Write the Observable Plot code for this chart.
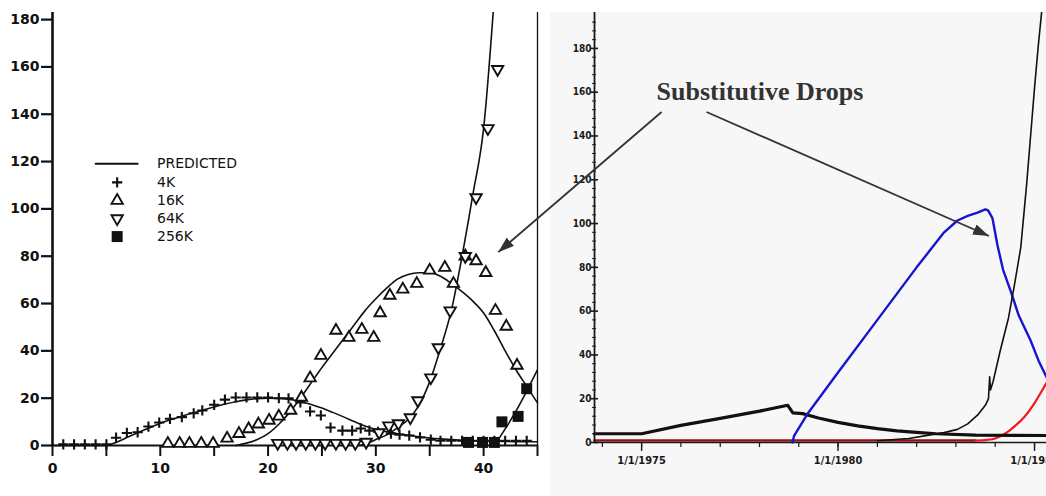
<!DOCTYPE html>
<html>
<head>
<meta charset="utf-8">
<script src="https://cdn.jsdelivr.net/npm/d3@7"></script>
<script src="https://cdn.jsdelivr.net/npm/@observablehq/plot@0.6"></script>
<style>
html,body{margin:0;padding:0;background:#fff;}
#wrap{position:relative;width:1046px;height:496px;overflow:hidden;background:#fff;}
#left{position:absolute;left:0;top:0;}
#rightbg{position:absolute;left:550px;top:12px;width:496px;height:484px;background:#f7f7f7;}
#right{position:absolute;left:550px;top:0;}
#overlay{position:absolute;left:0;top:0;pointer-events:none;}
</style>
</head>
<body>
<div id="wrap">
  <div id="left"></div>
  <div id="rightbg"></div>
  <div id="right"></div>
  <svg id="overlay" width="1046" height="496"></svg>
</div>
<script>
// ---------------- LEFT PANEL DATA (x = period, y = units) ----------------
const leftXTicks = [0, 5, 10, 15, 20, 25, 30, 35, 40, 45];
const leftYTicks = [0, 20, 40, 60, 80, 100, 120, 140, 160, 180];

const obs4K = [[1,0.5],[2,0.5],[3,0.5],[4,0.5],[5,0.5],[5.9,3.3],[6.9,5.3],[7.9,5.6],[8.9,8],[9.9,9.7],
  [10.9,11.3],[12,12],[13.1,13.6],[13.9,14.8],[15,17.2],[16,19.4],[17,20.3],[18,20.3],[19,20.3],[20,20.3],
  [21,20],[21.9,19.9],[23,18.2],[23.9,14.4],[24.9,12.7],[25.8,7.6],[26.9,6.3],[27.8,6.3],[28.6,7.2],[29.4,6.3],
  [30.2,5.8],[31.4,5],[32.2,4.6],[33.1,4.2],[34.1,3.4],[35.1,2.5],[36,2],[37,2],[38,2],[39,2],[40,2],[41,2],[42,2],[43,2],[44,2]];

const obs16K = [[10.7,0.8],[11.8,0.8],[12.7,0.8],[13.8,0.8],[14.9,0.8],[16.2,3],[17.3,5],[18.2,7],[19.1,9],[20.1,10.6],
  [21,12.3],[22.1,14.8],[23.1,20.3],[23.9,28.5],[24.9,38],[26.3,48.6],[27.5,45.6],[28.7,49],[29.8,45.6],[30.4,56],
  [31.3,63.4],[32.5,66],[33.8,68.4],[35,74],[36.4,75.2],[37.2,68.4],[38.3,80],[39.3,78],[40.2,73],[41.1,57],
  [42.1,50.3],[43.1,33.8]];

const obs64K = [[20.9,1],[21.8,1],[22.6,1],[23.5,1],[24.4,1],[25.3,1],[26.3,1],[27.2,1],[28.1,1],[29.1,1.5],
  [30.3,5.5],[31.2,8.4],[32.1,9.3],[33.2,11.8],[33.9,19],[35.1,28.7],[35.8,41.4],[36.9,57],[38.3,80],
  [39.3,104.8],[40.4,134],[41.3,159]];

const obs256K = [[38.6,1.3],[39.9,1.3],[41,1.3],[41.7,10],[43.2,12.3],[44,24]];

const pred4K = [[0,0],[5,0],[6,1.5],[7,3.6],[8,5.6],[9,7.5],[10,9.4],[11,11],[12,12.4],[13,13.7],[14,15],
  [15,16.3],[16,17.5],[17,18.5],[18,19.3],[19,19.8],[20,20],[21,19.9],[22,19.5],[23,18.6],[24,17.3],[25,15.8],
  [26,14],[27,12.1],[28,10.1],[29,8.2],[30,6.8],[31,5.8],[32,5],[33,4.3],[34,3.7],[35,3.2],[36,2.8],[38,2.2],
  [40,1.9],[42,1.7],[45,1.6]];
const pred16K = [[17,0],[18,1],[19,2.5],[20,5],[21,9],[22,14],[23,20],[24,26.5],[25,33],[26,39],[27,45],[28,51],
  [29,57],[30,62],[31,66.5],[32,70.3],[33,72.3],[34,73],[35,73],[36,71.5],[37,68.5],[38,65],[39,61],[40,56],
  [41,48.5],[42,40],[43,32],[44,25],[45,18]];
const pred64K = [[28.5,0],[29,0.5],[30,2.5],[31,4.5],[32,7.5],[33,11],[34,17],[35,27],[36,41],[37,57],[38,80],
  [39,106],[40,134],[41,190]];
const pred256K = [[41,0],[42,7],[43,14.5],[44,23],[45,32]];

const legendLabels = ["PREDICTED", "4K", "16K", "64K", "256K"];

// ---------------- RIGHT PANEL DATA (x = year, y = units) ----------------
const rightMajorYears = [1975, 1980, 1985];
const rightMinorYears = [1974,1975,1976,1977,1978,1979,1980,1981,1982,1983,1984,1985];
const rightYTicks = [0, 20, 40, 60, 80, 100, 120, 140, 160, 180];

const oldBlack = [[1973.8,4],[1975,4],[1976,7.8],[1977,11],[1978,14.3],[1978.72,17],[1978.85,13.5],[1979.1,13.2],
  [1979.5,11.2],[1980,9.2],[1980.5,7.6],[1981,6.3],[1981.5,5.3],[1982,4.6],[1982.5,4],[1983.5,3.4],[1985.31,3.2]];
const blueSeries = [[1978.84,0],[1978.88,3],[1979.22,13],[1980,32],[1981,56],[1982,80],[1982.35,88],[1982.7,96],
  [1983.04,101.4],[1983.3,103.5],[1983.55,105],[1983.75,106.5],[1983.82,106],[1983.93,102.5],[1984.06,90],
  [1984.2,79],[1984.39,69.4],[1984.6,58],[1984.9,46.6],[1985.1,37.5],[1985.31,29.7]];
const newBlack = [[1981,0.8],[1981.8,1.8],[1982.35,3.5],[1982.7,4.5],[1983.04,6],[1983.3,8.5],[1983.55,12.5],
  [1983.75,17],[1983.83,20],[1983.86,30],[1983.88,24],[1983.95,28],[1984.13,42],[1984.34,57],[1984.5,73],
  [1984.65,89],[1984.8,118],[1984.9,140],[1985,162],[1985.1,182],[1985.2,200]];
const redSeries = [[1973.8,0.9],[1983.5,0.9],[1983.8,1.2],[1984,1.8],[1984.3,4.6],[1984.5,7.5],[1984.73,11.4],
  [1985,18],[1985.15,22.5],[1985.31,27.4]];

// annotation
const annotationText = "Substitutive Drops";
const leftTarget = [41.4, 81.5];
const rightTarget = [1983.855, 94.1];

// ---------------- helpers ----------------
const toDate = y => {
  const yr = Math.floor(y);
  const a = Date.UTC(yr, 0, 1), b = Date.UTC(yr + 1, 0, 1);
  return new Date(a + (y - yr) * (b - a));
};
const X = d => d[0], Y = d => d[1];
const DX = d => toDate(d[0]);

// ---------------- LEFT CHART ----------------
const ink = "#111";
const tickFont = "DejaVu Sans, Verdana, sans-serif";
const plusStyle = {symbol: "plus", r: 3.4, stroke: ink, strokeWidth: 2.1, fill: "none"};
const upStyle = {symbol: "triangle2", r: 5.4, stroke: ink, strokeWidth: 1.9, fill: "white"};
const downStyle = {symbol: "triangle2", r: 5.4, stroke: ink, strokeWidth: 1.9, fill: "white", rotate: 180};
const squareStyle = {symbol: "square", r: 6.2, fill: ink, stroke: "none"};

// legend layout (in the chart's own data units)
const legX1 = 4.0, legX2 = 7.9, legSymX = 6.0, legTextX = 9.7;
const legRowY = [119.1, 111.2, 103.5, 95.9, 88.3];
const legendRows = legendLabels.map((label, i) => ({label, i}));
const legSym = [null, plusStyle, upStyle, downStyle, squareStyle];

const left = Plot.plot({
  width: 545, height: 496,
  marginLeft: 52, marginRight: 8, marginTop: 12, marginBottom: 51,
  x: {domain: [0, 45], label: null},
  y: {domain: [0, 183], label: null},
  style: {background: "transparent", color: ink},
  marks: [
    Plot.line(pred4K, {x: X, y: Y, stroke: ink, strokeWidth: 1.6, curve: "monotone-x"}),
    Plot.line(pred16K, {x: X, y: Y, stroke: ink, strokeWidth: 1.6, curve: "monotone-x"}),
    Plot.line(pred64K, {x: X, y: Y, stroke: ink, strokeWidth: 1.6, curve: "monotone-x", clip: true}),
    Plot.line(pred256K, {x: X, y: Y, stroke: ink, strokeWidth: 1.6, curve: "monotone-x", clip: true}),
    Plot.ruleX([0], {stroke: ink, strokeWidth: 2.6}),
    Plot.ruleX([45], {stroke: ink, strokeWidth: 1.3}),
    Plot.ruleY([0], {stroke: ink, strokeWidth: 2.2}),
    Plot.axisY(leftYTicks, {tickSize: 11, tickPadding: 2, strokeWidth: 2.2, fontSize: 14, fontWeight: "bold", fontFamily: tickFont, label: null}),
    Plot.axisX(leftXTicks, {tickSize: 11, tickPadding: 7, strokeWidth: 2, fontSize: 14, fontWeight: "bold", fontFamily: tickFont, label: null,
      tickFormat: d => d % 10 === 0 && d < 45 ? String(d) : ""}),
    Plot.dot(obs4K, {x: X, y: Y, ...plusStyle}),
    Plot.dot(obs16K, {x: X, y: Y, ...upStyle}),
    Plot.dot(obs64K, {x: X, y: Y, ...downStyle}),
    Plot.dot(obs256K, {x: X, y: Y, ...squareStyle}),
    // legend
    Plot.line([[legX1, legRowY[0]], [legX2, legRowY[0]]], {x: X, y: Y, stroke: ink, strokeWidth: 2}),
    ...[1, 2, 3, 4].map(i => Plot.dot([legendRows[i]], {x: () => legSymX, y: () => legRowY[i], ...legSym[i]})),
    Plot.text(legendRows, {x: () => legTextX, y: d => legRowY[d.i], text: "label", textAnchor: "start",
      fontSize: 14, fontFamily: tickFont, fill: ink})
  ]
});
document.getElementById("left").appendChild(left);

// ---------------- RIGHT CHART ----------------
const narrow = "Liberation Sans Narrow, DejaVu Sans Condensed, Arial Narrow, sans-serif";
const xStart = toDate(1973.8), xEnd = toDate(1985.305);
const right = Plot.plot({
  width: 496, height: 496,
  marginLeft: 44, marginRight: 0, marginTop: 12, marginBottom: 54,
  x: {type: "utc", domain: [xStart, xEnd], label: null},
  y: {domain: [0, 196.4], label: null},
  style: {background: "transparent", color: "#1a1a1a"},
  marks: [
    Plot.ruleY([0], {stroke: "#1a1a1a", strokeWidth: 1.6}),
    Plot.line(redSeries.filter(d => d[0] <= 1983.5), {x: DX, y: Y, stroke: "#8e1616", strokeWidth: 2.4}),
    Plot.line(redSeries.filter(d => d[0] >= 1983.5), {x: DX, y: Y, stroke: "#ee1a1a", strokeWidth: 2.2, curve: "monotone-x"}),
    Plot.line(oldBlack, {x: DX, y: Y, stroke: "#111", strokeWidth: 3.2}),
    Plot.line(blueSeries, {x: DX, y: Y, stroke: "#1616d0", strokeWidth: 2.4}),
    Plot.line(newBlack, {x: DX, y: Y, stroke: "#111", strokeWidth: 1.6, clip: true}),
    Plot.ruleX([xStart], {stroke: "#1a1a1a", strokeWidth: 1.8}),
    Plot.axisY(d3.range(0, 196, 4).filter(v => v % 20), {tickSize: 4, dx: 2, strokeWidth: 1, tickFormat: () => "", label: null}),
    Plot.axisY(rightYTicks, {tickSize: 8, dx: 4, strokeWidth: 1.6, tickFormat: () => "", label: null}),
    Plot.axisY(rightYTicks, {tickSize: 0, tickPadding: 3, fontSize: 10, fontWeight: "bold", fontFamily: narrow, label: null}),
    Plot.axisX(rightMinorYears.map(toDate), {tickSize: 5, strokeWidth: 1.2, tickFormat: () => "", label: null}),
    Plot.axisX(rightMajorYears.map(toDate), {tickSize: 9, tickPadding: 5, strokeWidth: 1.4, fontSize: 11, fontWeight: "bold",
      fontFamily: narrow, label: null, tickFormat: d => `1/1/${d.getUTCFullYear()}`})
  ]
});
document.getElementById("right").appendChild(right);

// ---------------- ANNOTATION OVERLAY ----------------
const ov = d3.select("#overlay");
const annColor = "#333";
ov.append("defs").append("marker")
  .attr("id", "ah").attr("viewBox", "0 0 16 11").attr("refX", 16).attr("refY", 5.5)
  .attr("markerWidth", 16).attr("markerHeight", 11).attr("markerUnits", "userSpaceOnUse").attr("orient", "auto")
  .append("path").attr("d", "M0,0L16,5.5L0,11Z").attr("fill", annColor);

const txt = ov.append("text")
  .attr("x", 760).attr("y", 100).attr("text-anchor", "middle")
  .attr("font-family", "Liberation Serif, Times New Roman, serif").attr("font-weight", "bold")
  .attr("font-size", 26).attr("fill", annColor).text(annotationText);
const bb = txt.node().getBBox();
const tailY = 100 + 12;
const lx = left.scale("x").apply(leftTarget[0]), ly = left.scale("y").apply(leftTarget[1]);
const rx = 550 + right.scale("x").apply(toDate(rightTarget[0])), ry = right.scale("y").apply(rightTarget[1]);
ov.append("line").attr("x1", bb.x + 5).attr("y1", tailY).attr("x2", lx).attr("y2", ly)
  .attr("stroke", annColor).attr("stroke-width", 1.8).attr("marker-end", "url(#ah)");
ov.append("line").attr("x1", bb.x + 50).attr("y1", tailY).attr("x2", rx).attr("y2", ry)
  .attr("stroke", annColor).attr("stroke-width", 1.8).attr("marker-end", "url(#ah)");
</script>
</body>
</html>
